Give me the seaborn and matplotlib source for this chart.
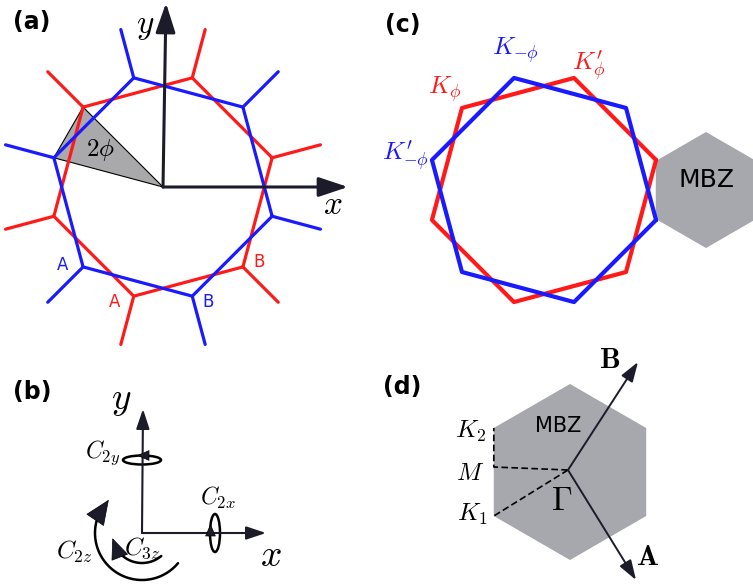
import numpy as np
import pandas as pd
import matplotlib.pyplot as plt
import matplotlib.patches as mpatches
import seaborn as sns

# geometry of the two twisted hexagons (pixel frame, y downwards)
twist_deg = 15
red_angles = [15, 75, 135, 195, 255, 315]
blue_angles = [-15, 45, 105, 165, 225, 285]

center_a = (163, 187)
radius_a = 113
stub_len = 50
center_c = (544, 190)
radius_c = 116

# MBZ hexagons (pointy top)
mbz_angles = [90, 30, -30, -90, -150, 150]
mbz_c_center = (706, 190)
mbz_c_radius = 58
mbz_d_center = (570, 472)
mbz_d_radius = 88

# panel (b) frame
origin_b = (142, 533)
red = "#ff1a1a"
blue = "#1a1aff"
grey = "#a7a7ae"
head = "#1b1b2a"


def pt(c, r, ang):
    a = np.deg2rad(ang)
    return c[0] + r * np.cos(a), c[1] - r * np.sin(a)


def hexagon(c, r, angles):
    xs, ys = zip(*[pt(c, r, a) for a in angles + angles[:1]])
    return pd.DataFrame({"x": xs, "y": ys, "i": range(len(xs))})


def arrow(ax, start, end, lw, size, hl=1.2, hw=0.4):
    ax.annotate("", xy=end, xytext=start,
                arrowprops=dict(arrowstyle=f"-|>,head_length={hl},head_width={hw}",
                                mutation_scale=size, lw=lw, color="black",
                                fc=head, ec=head, shrinkA=0, shrinkB=0))


def head_only(ax, start, end, size, hl=0.8, hw=0.35):
    ax.annotate("", xy=end, xytext=start,
                arrowprops=dict(arrowstyle=f"-|>,head_length={hl},head_width={hw}",
                                mutation_scale=size, fc=head, ec="black", lw=0.5,
                                shrinkA=0, shrinkB=0))


sns.set_theme(style="white")
plt.rcParams["font.family"] = ["DejaVu Sans"]
plt.rcParams["mathtext.fontset"] = "cm"
plt.rcParams["text.color"] = "black"

fig = plt.figure(figsize=(7.53, 5.84), dpi=100)
ax = fig.add_axes([0, 0, 1, 1])
ax.set_xlim(0, 753)
ax.set_ylim(584, 0)
ax.axis("off")

# ---------- (a) ----------
wedge = [center_a, pt(center_a, radius_a, 135), pt(center_a, radius_a, 165)]
ax.add_patch(mpatches.Polygon(wedge, closed=True, fc="#a9a9ab", ec="black", lw=0.8, zorder=1))
for angles, col in [(red_angles, red), (blue_angles, blue)]:
    sns.lineplot(data=hexagon(center_a, radius_a, angles), x="x", y="y", sort=False,
                 estimator=None, color=col, lw=2.3, ax=ax, zorder=2)
    for a in angles:
        p0 = pt(center_a, radius_a, a)
        p1 = pt(center_a, radius_a + stub_len, a)
        ax.plot([p0[0], p1[0]], [p0[1], p1[1]], color=col, lw=2.3, zorder=2)

arrow(ax, center_a, (348, 187), 2.2, 15)
arrow(ax, center_a, (166, 3), 2.2, 15)
ax.text(145, 25, "$y$", fontsize=24, ha="center", va="center")
ax.text(333, 204, "$x$", fontsize=24, ha="center", va="center")
ax.text(100, 150, r"$2\phi$", fontsize=18, ha="center", va="center")
ax.text(63, 265, "A", color=blue, fontsize=12, ha="center", va="center")
ax.text(115, 302, "A", color=red, fontsize=12, ha="center", va="center")
ax.text(208, 302, "B", color=blue, fontsize=12, ha="center", va="center")
ax.text(259, 262, "B", color=red, fontsize=12, ha="center", va="center")
ax.text(32, 22, "(a)", fontsize=17, fontweight="bold", ha="center", va="center")

# ---------- (c) ----------
mbz = [pt(mbz_c_center, mbz_c_radius, a) for a in mbz_angles]
ax.add_patch(mpatches.Polygon(mbz, closed=True, fc=grey, ec="none", zorder=1))
ax.text(707, 180, "MBZ", fontsize=18, ha="center", va="center")
for angles, col in [(red_angles, red), (blue_angles, blue)]:
    sns.lineplot(data=hexagon(center_c, radius_c, angles), x="x", y="y", sort=False,
                 estimator=None, color=col, lw=3, ax=ax, zorder=2)
ax.text(515, 50, r"$K_{\mathbf{-}\phi}$", color=blue, fontsize=18, ha="center", va="center")
ax.text(589, 66, r"$K^{\prime}_{\phi}$", color=red, fontsize=18, ha="center", va="center")
ax.text(445, 89, r"$K_{\phi}$", color=red, fontsize=18, ha="center", va="center")
ax.text(405, 156, r"$K^{\prime}_{\mathbf{-}\phi}$", color=blue, fontsize=18, ha="center", va="center")
ax.text(403, 25, "(c)", fontsize=17, fontweight="bold", ha="center", va="center")

# ---------- (b) ----------
ox, oy = origin_b
arrow(ax, origin_b, (266, oy), 1.5, 10)
arrow(ax, origin_b, (143, 409), 1.5, 10)
ax.text(121, 400, "$y$", fontsize=27, ha="center", va="center")
ax.text(271, 556, "$x$", fontsize=27, ha="center", va="center")
ax.add_patch(mpatches.Ellipse((142, 460), 38, 9, fill=False, ec="black", lw=1.8))
head_only(ax, (148, 455.5), (137, 455.5), 10)
ax.text(103, 453, r"$C_{2y}$", fontsize=17, ha="center", va="center")
ax.add_patch(mpatches.Ellipse((215, 533), 10, 38, fill=False, ec="black", lw=1.8))
head_only(ax, (210.5, 536), (210.5, 524), 10)
ax.text(218, 498, r"$C_{2x}$", fontsize=17, ha="center", va="center")

# C2z / C3z arcs around the z axis
for r, a0, a1, sz in [(47, -40, -215, 12), (30, -50, -160, 10)]:
    t = np.deg2rad(np.linspace(a0, a1, 60))
    ax.plot(ox + r * np.cos(t), oy - r * np.sin(t), color="black", lw=1.8)
    ta, tb = np.deg2rad(a1 + 12), np.deg2rad(a1 - 10)
    head_only(ax, (ox + r * np.cos(ta), oy - r * np.sin(ta)),
              (ox + r * np.cos(tb), oy - r * np.sin(tb)), sz, hl=1.4, hw=0.6)
ax.text(74, 552, r"$C_{2z}$", fontsize=18, ha="center", va="center")
ax.text(142, 548, r"$C_{3z}$", fontsize=18, ha="center", va="center")
ax.text(32, 392, "(b)", fontsize=17, fontweight="bold", ha="center", va="center")

# ---------- (d) ----------
mbz_d = [pt(mbz_d_center, mbz_d_radius, a) for a in mbz_angles]
ax.add_patch(mpatches.Polygon(mbz_d, closed=True, fc=grey, ec="none", zorder=1))
gamma = (568, 470)
k2 = mbz_d[5]
k1 = mbz_d[4]
m = (k1[0], gamma[1] - 3)
ax.plot([gamma[0], m[0], k2[0]], [gamma[1], m[1], k2[1]], color="black", lw=1.2, ls=(0, (4, 2)))
ax.plot([gamma[0], k1[0]], [gamma[1], k1[1]], color="black", lw=1.2, ls=(0, (4, 2)))
arrow(ax, gamma, (638, 362), 1.4, 10)
arrow(ax, gamma, (636, 580), 1.4, 10)
ax.text(610, 360, r"$\mathbf{B}$", fontsize=21, ha="center", va="center")
ax.text(648, 557, r"$\mathbf{A}$", fontsize=21, ha="center", va="center")
ax.text(562, 501, r"$\Gamma$", fontsize=24, ha="center", va="center")
ax.text(471, 431, r"$K_2$", fontsize=18, ha="center", va="center")
ax.text(470, 473, r"$M$", fontsize=18, ha="center", va="center")
ax.text(472, 514, r"$K_1$", fontsize=18, ha="center", va="center")
ax.text(558, 426, "MBZ", fontsize=15, ha="center", va="center")
ax.text(402, 387, "(d)", fontsize=17, fontweight="bold", ha="center", va="center")

fig.savefig("out.png", dpi=100)
